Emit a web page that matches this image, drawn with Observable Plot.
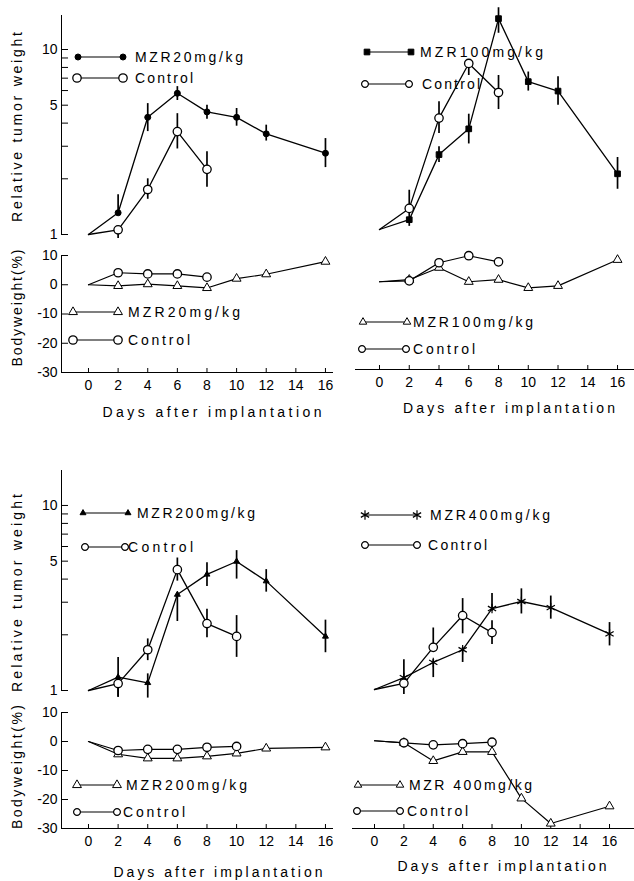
<!DOCTYPE html>
<html><head><meta charset="utf-8">
<script src="https://cdn.jsdelivr.net/npm/d3@7"></script>
<script src="https://cdn.jsdelivr.net/npm/@observablehq/plot@0.6"></script>
<style>
html,body{margin:0;padding:0;background:#fff;}
#fig{position:relative;width:634px;height:881px;overflow:hidden;background:#fff;}
#fig svg{position:absolute;left:0;top:0;}
</style></head><body><div id="fig"></div>
<script>
// ---------- data ----------
const days = [0, 2, 4, 6, 8, 10, 12, 16];
const ctrlDays = [0, 2, 4, 6, 8];
const ctrlDays200 = [0, 2, 4, 6, 8, 10];
const xTicks = [0, 2, 4, 6, 8, 10, 12, 14, 16];
const tumorTicks = [1, 2, 3, 4, 5, 6, 7, 8, 9, 10];
const tumorLabels = [1, 5, 10];
const bwTicks = [10, 0, -10, -20, -30];

// MZR 20 mg/kg
const mzr20 = [1, 1.31, 4.3, 5.8, 4.6, 4.3, 3.5, 2.75];
const mzr20Hi = [null, 1.64, 5.1, 6.3, 5.0, 4.8, 3.9, 3.3];
const mzr20Lo = [null, 1.31, 3.6, 5.3, 4.2, 3.85, 3.2, 2.3];
const ctrl20 = [1, 1.06, 1.75, 3.6, 2.25];
const ctrl20Hi = [null, 1.06, 2.0, 4.5, 2.8];
const ctrl20Lo = [null, 0.95, 1.55, 2.9, 1.8];
const bw20 = [0, -0.4, 0.2, -0.4, -1.1, 2.1, 3.6, 7.9];
const bwCtrl20 = [0, 4.1, 3.7, 3.7, 2.6];

// MZR 100 mg/kg
const mzr100 = [1, 1.13, 2.54, 3.5, 13.8, 6.3, 5.6, 2.0];
const mzr100Hi = [null, 1.23, 2.8, 4.2, 15.8, 7.1, 6.7, 2.45];
const mzr100Lo = [null, 1.04, 2.3, 2.9, 11.5, 5.6, 4.7, 1.65];
const ctrl100 = [1, 1.3, 4.0, 7.9, 5.5];
const ctrl100Hi = [null, 1.63, 4.9, 7.9, 6.8];
const ctrl100Lo = [null, 1.22, 3.3, 6.8, 4.45];
const bw100 = [0, 0.7, 4.8, 0, 0.7, -2.1, -1.4, 7.5];
const bwCtrl100 = [0, 0.3, 6.5, 8.9, 6.8];

// MZR 200 mg/kg
const mzr200 = [1, 1.18, 1.1, 3.3, 4.24, 4.98, 3.9, 1.96];
const mzr200Hi = [null, 1.51, 1.23, 3.3, 4.9, 5.7, 4.5, 2.4];
const mzr200Lo = [null, 0.92, 0.91, 2.36, 3.65, 4.0, 3.4, 1.6];
const ctrl200 = [1, 1.09, 1.66, 4.5, 2.3, 1.96];
const ctrl200Hi = [null, 1.17, 1.9, 5.2, 2.75, 2.54];
const ctrl200Lo = [null, 0.92, 1.45, 3.9, 1.93, 1.51];
const bw200 = [0, -4.4, -5.8, -5.8, -5.1, -4.1, -2.4, -2.0];
const bwCtrl200 = [0, -3.1, -2.7, -2.7, -2.0, -1.7];

// MZR 400 mg/kg
const mzr400 = [1, 1.16, 1.4, 1.64, 2.74, 2.99, 2.77, 2.0];
const mzr400Hi = [null, 1.45, 1.45, 1.69, 3.3, 3.5, 3.2, 2.3];
const mzr400Lo = [null, 1.12, 1.16, 1.4, 2.65, 2.56, 2.4, 1.72];
const ctrl400 = [1, 1.08, 1.69, 2.51, 2.03];
const ctrl400Hi = [null, 1.08, 2.15, 3.1, 2.35];
const ctrl400Lo = [null, 0.94, 1.69, 2.0, 1.75];
const bw400 = [0, -0.7, -6.9, -3.8, -3.8, -19.7, -28.3, -22.4];
const bwCtrl400 = [0, -0.7, -1.4, -1.0, -0.5];

// ---------- layout / style ----------
const W = 634, H = 881;
const FONT = "'Liberation Sans', Arial, Helvetica, sans-serif";
const markers = {
  filled:   {symbol: "circle",   r: 3,   fill: "black", stroke: "black", sw: 1},
  open:     {symbol: "circle",   r: 4.2, fill: "white", stroke: "black", sw: 1.3},
  openSmall:{symbol: "circle",   r: 3.4, fill: "white", stroke: "black", sw: 1.2},
  square:   {symbol: "square",   r: 3.2, fill: "black", stroke: "black", sw: 1},
  smalltri: {symbol: "triangle", r: 2.2, fill: "black", stroke: "black", sw: 1},
  star:     {symbol: "asterisk", r: 4.5, fill: "none",  stroke: "black", sw: 1.2},
  tri:      {symbol: "triangle", r: 3.3, fill: "white", stroke: "black", sw: 1},
  triSmall: {symbol: "triangle", r: 2.8, fill: "white", stroke: "black", sw: 1}
};

const panels = [
  {xr: [61, 332], xd: [-1.823, 16.475], ty: [234, 15], tyd: [1, 15.27], by: [372, 255], axis: true,
   drug: [mzr20, mzr20Hi, mzr20Lo], ctrl: [ctrl20, ctrl20Hi, ctrl20Lo], cDays: ctrlDays,
   bw: bw20, bwc: bwCtrl20, dm: "filled", cm: "open", bm: "tri", bcm: "open"},
  {xr: [355, 634], xd: [-1.613, 17.14], ty: [229, 44], tyd: [1, 10], by: [369, 252], axis: false,
   drug: [mzr100, mzr100Hi, mzr100Lo], ctrl: [ctrl100, ctrl100Hi, ctrl100Lo], cDays: ctrlDays,
   bw: bw100, bwc: bwCtrl100, dm: "square", cm: "open", bm: "tri", bcm: "open"},
  {xr: [61, 332], xd: [-1.823, 16.475], ty: [690, 470], tyd: [1, 15.45], by: [828, 712], axis: true,
   drug: [mzr200, mzr200Hi, mzr200Lo], ctrl: [ctrl200, ctrl200Hi, ctrl200Lo], cDays: ctrlDays200,
   bw: bw200, bwc: bwCtrl200, dm: "smalltri", cm: "open", bm: "tri", bcm: "open"},
  {xr: [352, 634], xd: [-1.498, 17.70], ty: [689, 504], tyd: [1, 10], by: [828, 711], axis: false,
   drug: [mzr400, mzr400Hi, mzr400Lo], ctrl: [ctrl400, ctrl400Hi, ctrl400Lo], cDays: ctrlDays,
   bw: bw400, bwc: bwCtrl400, dm: "star", cm: "open", bm: "tri", bcm: "open"}
];

const legends = [
  {x1: 78, x2: 123, y: 57, m: "filled", tx: 135, label: "MZR20mg/kg", len: 108},
  {x1: 77, x2: 123, y: 78, m: "open", tx: 135, label: "Control", len: 58},
  {x1: 73, x2: 118, y: 312, m: "tri", tx: 128, label: "MZR20mg/kg", len: 112},
  {x1: 73, x2: 118, y: 340, m: "open", tx: 128, label: "Control", len: 62},
  {x1: 367, x2: 411, y: 52, m: "square", tx: 420, label: "MZR100mg/kg", len: 123},
  {x1: 365, x2: 409, y: 84, m: "openSmall", tx: 422, label: "Control", len: 58},
  {x1: 363, x2: 407, y: 322, m: "triSmall", tx: 413, label: "MZR100mg/kg", len: 120},
  {x1: 362, x2: 406, y: 349, m: "openSmall", tx: 413, label: "Control", len: 62},
  {x1: 83, x2: 128, y: 513, m: "smalltri", tx: 137, label: "MZR200mg/kg", len: 118},
  {x1: 85, x2: 125, y: 547, m: "openSmall", tx: 128, label: "Control", len: 65},
  {x1: 77, x2: 117, y: 785, m: "tri", tx: 126, label: "MZR200mg/kg", len: 121},
  {x1: 77, x2: 117, y: 812, m: "openSmall", tx: 123, label: "Control", len: 62},
  {x1: 365, x2: 417, y: 515, m: "star", tx: 430, label: "MZR400mg/kg", len: 120},
  {x1: 365, x2: 417, y: 545, m: "openSmall", tx: 428, label: "Control", len: 59},
  {x1: 358, x2: 400, y: 785, m: "triSmall", tx: 409, label: "MZR 400mg/kg", len: 123},
  {x1: 357, x2: 400, y: 811, m: "openSmall", tx: 407, label: "Control", len: 61}
];

const titles = [
  {x: 212, y: 412, text: "Days after implantation", len: 219, rot: false},
  {x: 509, y: 408, text: "Days after implantation", len: 212, rot: false},
  {x: 218, y: 872, text: "Days after implantation", len: 209, rot: false},
  {x: 502, y: 866, text: "Days after implantation", len: 209, rot: false},
  {x: 17, y: 127, text: "Relative tumor weight", len: 190, rot: true},
  {x: 17, y: 308, text: "Bodyweight(%)", len: 117, rot: true},
  {x: 17, y: 593, text: "Relative tumor weight", len: 198, rot: true},
  {x: 17, y: 767, text: "Bodyweight(%)", len: 124, rot: true}
];

// ---------- helpers ----------
function rows(ds, v, hi, lo) {
  return ds.map((d, i) => ({day: d, v: v[i], hi: hi ? hi[i] : null, lo: lo ? lo[i] : null}));
}
function dotMark(data, key) {
  const m = markers[key];
  return Plot.dot(data.filter(d => d.day > 0), {x: "day", y: "v", symbol: m.symbol, r: m.r,
    fill: m.fill, stroke: m.stroke, strokeWidth: m.sw});
}
const baseStyle = {background: "transparent", fontFamily: FONT, fontSize: "14px", color: "black", overflow: "visible"};
const fig = document.getElementById("fig");

for (const p of panels) {
  const drug = rows(days, ...p.drug);
  const ctrl = rows(p.cDays, ...p.ctrl);
  const tumor = Plot.plot({
    width: W, height: H,
    marginLeft: p.xr[0], marginRight: W - p.xr[1], marginTop: p.ty[1], marginBottom: H - p.ty[0],
    style: baseStyle,
    x: {domain: p.xd, axis: null},
    y: p.axis
      ? {type: "log", domain: p.tyd, ticks: tumorTicks, tickFormat: d => tumorLabels.includes(d) ? String(d) : "",
         tickSize: -7, tickPadding: 11, line: true, label: null}
      : {type: "log", domain: p.tyd, axis: null},
    marks: [
      Plot.line(drug, {x: "day", y: "v", stroke: "black", strokeWidth: 1.3}),
      Plot.line(ctrl, {x: "day", y: "v", stroke: "black", strokeWidth: 1.3}),
      Plot.ruleX(drug.filter(d => d.hi != null), {x: "day", y1: "lo", y2: "hi", stroke: "black", strokeWidth: 1.7}),
      Plot.ruleX(ctrl.filter(d => d.hi != null), {x: "day", y1: "lo", y2: "hi", stroke: "black", strokeWidth: 1.7}),
      dotMark(drug, p.dm),
      dotMark(ctrl, p.cm)
    ]
  });
  fig.appendChild(tumor);

  const bwd = rows(days, p.bw);
  const bwc = rows(p.cDays, p.bwc);
  const bw = Plot.plot({
    width: W, height: H,
    marginLeft: p.xr[0], marginRight: W - p.xr[1], marginTop: p.by[1], marginBottom: H - p.by[0],
    style: baseStyle,
    x: {domain: p.xd, ticks: xTicks, tickFormat: d => String(d), tickSize: -4, tickPadding: 12, line: true, label: null},
    y: p.axis
      ? {domain: [-30, 10], ticks: bwTicks, tickFormat: d => String(d), tickSize: -7, tickPadding: 11, line: true, label: null}
      : {domain: [-30, 10], axis: null},
    marks: [
      Plot.line(bwd, {x: "day", y: "v", stroke: "black", strokeWidth: 1.2}),
      Plot.line(bwc, {x: "day", y: "v", stroke: "black", strokeWidth: 1.2}),
      dotMark(bwd, p.bm),
      dotMark(bwc, p.bcm)
    ]
  });
  fig.appendChild(bw);
}

// ---------- legends & titles overlay ----------
const symMap = {circle: d3.symbolCircle, square: d3.symbolSquare, triangle: d3.symbolTriangle, asterisk: d3.symbolAsterisk};
const ov = d3.select(fig).append("svg").attr("width", W).attr("height", H)
  .style("font-family", FONT).style("font-size", "14px");
for (const L of legends) {
  const m = markers[L.m];
  ov.append("line").attr("x1", L.x1).attr("x2", L.x2).attr("y1", L.y).attr("y2", L.y)
    .attr("stroke", "black").attr("stroke-width", 1.2);
  for (const x of [L.x1, L.x2]) {
    ov.append("path").attr("transform", `translate(${x},${L.y})`)
      .attr("d", d3.symbol(symMap[m.symbol], Math.PI * m.r * m.r)())
      .attr("fill", m.fill).attr("stroke", m.stroke).attr("stroke-width", m.sw);
  }
  ov.append("text").attr("x", L.tx).attr("y", L.y).attr("dy", "0.36em")
    .attr("textLength", L.len).attr("lengthAdjust", "spacing").attr("fill", "black").text(L.label);
}
for (const t of titles) {
  const el = ov.append("text").attr("text-anchor", "middle").attr("dy", "0.36em")
    .attr("textLength", t.len).attr("lengthAdjust", "spacing").attr("fill", "black").text(t.text);
  if (t.rot) el.attr("transform", `translate(${t.x},${t.y}) rotate(-90)`);
  else el.attr("x", t.x).attr("y", t.y);
}
</script></body></html>
